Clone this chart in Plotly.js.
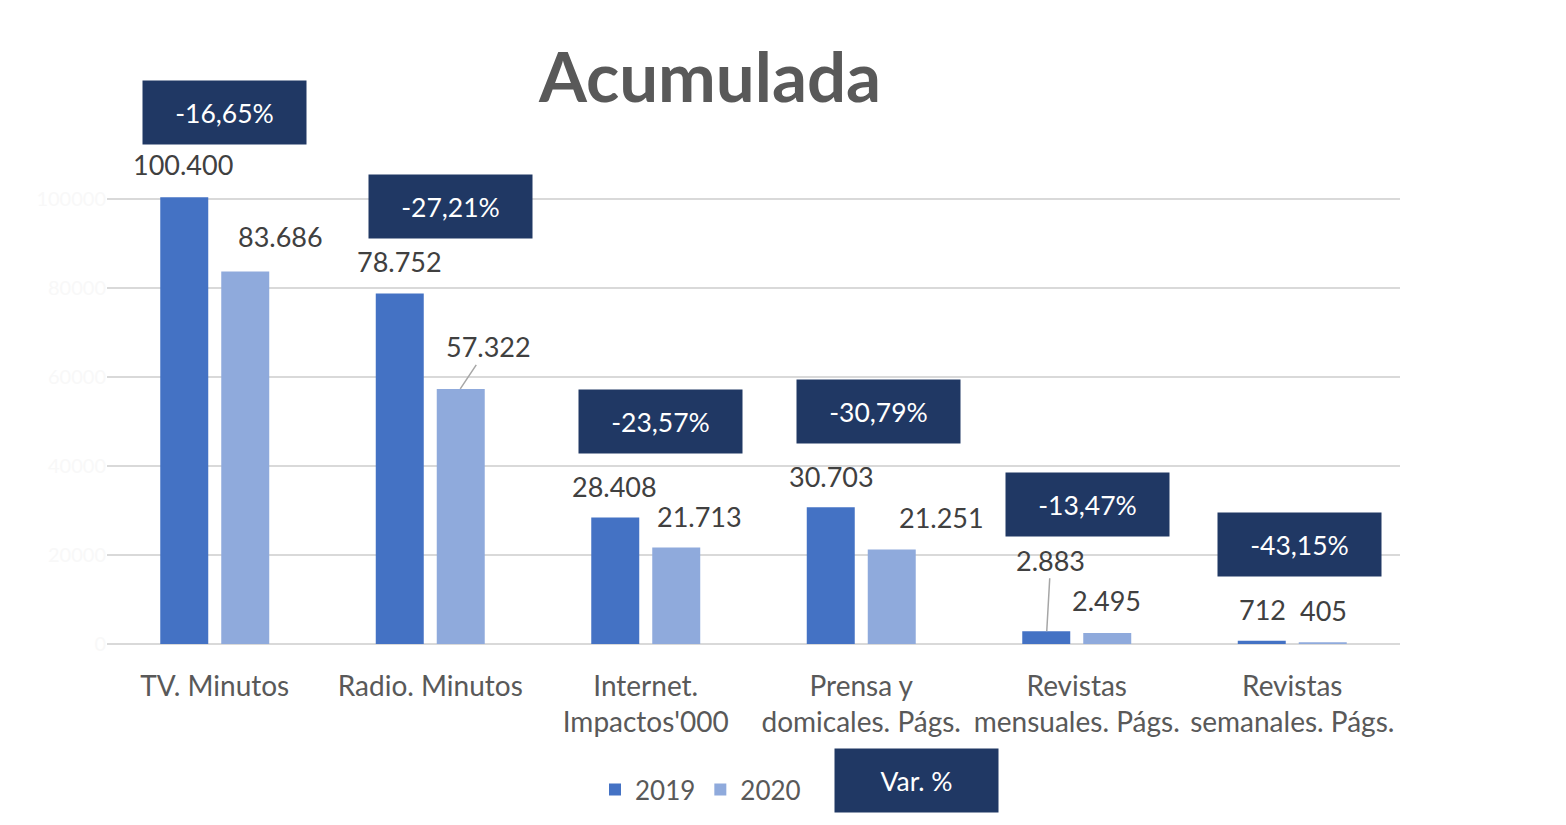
<!DOCTYPE html>
<html>
<head>
<meta charset="utf-8">
<script src="https://cdn.plot.ly/plotly-3.0.1.min.js"></script>
<style>html,body{margin:0;padding:0;background:#fff;}#chart{width:1566px;height:825px;}</style>
</head>
<body>
<div id="chart"></div>
<script>
const categories = ["TV. Minutos", "Radio. Minutos", "Internet.<br>Impactos'000", "Prensa y<br>domicales. Págs.", "Revistas<br>mensuales. Págs.", "Revistas<br>semanales. Págs."];
const values2019 = [100400, 78752, 28408, 30703, 2883, 712];
const values2020 = [83686, 57322, 21713, 21251, 2495, 405];
const labels2019 = ["100.400", "78.752", "28.408", "30.703", "2.883", "712"];
const labels2020 = ["83.686", "57.322", "21.713", "21.251", "2.495", "405"];
const varPct = ["-16,65%", "-27,21%", "-23,57%", "-30,79%", "-13,47%", "-43,15%"];
const seriesNames = ["2019", "2020"];
const yTicks = [0, 20000, 40000, 60000, 80000, 100000];

// layout geometry (pixels)
const W = 1566, H = 825;
const M = {l: 107, r: 166, t: 197, b: 178};
const plotH = H - M.t - M.b;
const pyToPaper = py => (H - M.b - py) / plotH;

// label offsets [xshift, yshift] relative to bar top at category centre
const off2019 = [[-32, 33], [-31, 32], [-31, 31], [-30, 31], null, [-30, 31]];
const off2020 = [[66, 35], [30, 32], [54, 31], [80, 32], [30, 32], [31, 32]];
// leader-line labels: [xshift of tip, ax, ay]
const arrow2019 = [null, null, null, null, [-30, 4, -71], null];
const arrow2020 = [null, [30, 28, -42], null, null, null, null];
// Var % boxes: [xshift, pixel y centre]
const boxPos = [[10, 112], [20, 207], [15, 423], [17, 413], [11, 507], [7, 547]];

const FF = "Lato, 'Open Sans', sans-serif";
const labelFont = {family: FF, size: 27, color: "#404040"};
const boxFont = {family: FF, size: 26.5, color: "#ffffff"};
const navy = "#203864";

const annotations = [];
categories.forEach((c, i) => {
  [[values2019, labels2019, off2019, arrow2019], [values2020, labels2020, off2020, arrow2020]].forEach(([vals, labs, offs, arrs]) => {
    if (arrs[i]) {
      annotations.push({x: c, y: vals[i], xref: 'x', yref: 'y', xshift: arrs[i][0], text: labs[i],
        showarrow: true, arrowhead: 0, arrowwidth: 1.5, arrowcolor: '#a6a6a6', ax: arrs[i][1], ay: arrs[i][2],
        standoff: 0, font: labelFont});
    } else {
      annotations.push({x: c, y: vals[i], xref: 'x', yref: 'y', xshift: offs[i][0], yshift: offs[i][1],
        text: labs[i], showarrow: false, font: labelFont});
    }
  });
  annotations.push({x: c, xref: 'x', xshift: boxPos[i][0], y: pyToPaper(boxPos[i][1]), yref: 'paper',
    text: varPct[i], showarrow: false, font: boxFont, bgcolor: navy, width: 155, height: 55, borderpad: 4,
    yanchor: 'middle', xanchor: 'center'});
});
// legend entry box "Var. %"
annotations.push({x: (917 - M.l) / (W - M.l - M.r), xref: 'paper', y: pyToPaper(784), yref: 'paper',
  text: "Var. %", showarrow: false, font: boxFont, bgcolor: navy, width: 155, height: 55, borderpad: 4,
  xanchor: 'center', yanchor: 'middle'});

const data = [
  {type: 'bar', name: seriesNames[0], x: categories, y: values2019, marker: {color: '#4472C4'}, hoverinfo: 'none'},
  {type: 'bar', name: seriesNames[1], x: categories, y: values2020, marker: {color: '#8FAADC'}, hoverinfo: 'none'}
];

const layout = {
  width: W, height: H,
  margin: M,
  paper_bgcolor: '#fff', plot_bgcolor: '#fff',
  title: {text: "<b>Acumulada</b>", font: {family: FF, size: 69, color: '#595959'},
    x: 710 / W, xanchor: 'center', xref: 'container', y: 1 - 78 / H, yanchor: 'middle', yref: 'container'},
  barmode: 'group', bargap: 0.434, bargroupgap: 0.213,
  xaxis: {type: 'category', tickfont: {family: FF, size: 28, color: '#595959'},
    showgrid: false, showline: false, ticks: '', ticklabelstandoff: 23, fixedrange: true},
  yaxis: {range: [0, 100450], tickvals: yTicks, ticktext: yTicks.map(String), showgrid: true,
    gridcolor: '#d9d9d9', gridwidth: 2, zeroline: true, zerolinecolor: '#d9d9d9', zerolinewidth: 2,
    tickfont: {family: FF, size: 20, color: '#f8f8f8'}, ticks: '', fixedrange: true},
  showlegend: true,
  legend: {orientation: 'h', x: (595 - M.l) / (W - M.l - M.r), xanchor: 'left', y: pyToPaper(770), yanchor: 'top',
    font: {family: FF, size: 26, color: '#595959'}, itemwidth: 30, traceorder: 'normal'},
  annotations: annotations
};

Plotly.newPlot('chart', data, layout, {displayModeBar: false, staticPlot: true});
</script>
</body>
</html>
